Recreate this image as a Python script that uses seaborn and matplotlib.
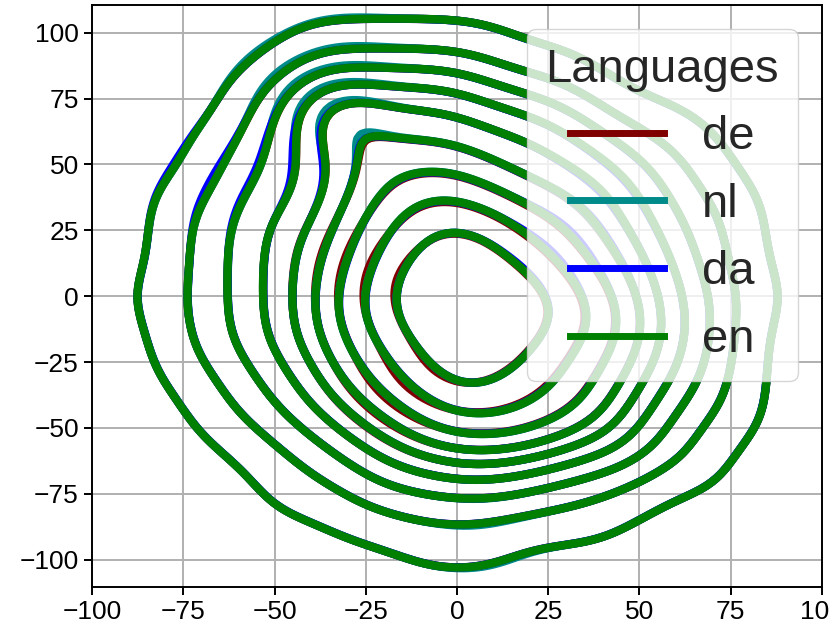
import numpy as np
import pandas as pd
import matplotlib
matplotlib.use("Agg")
import matplotlib.pyplot as plt
from matplotlib.lines import Line2D
import seaborn as sns

plt.rcParams['font.family'] = ['Liberation Sans', 'DejaVu Sans']

languages = ['de', 'nl', 'da', 'en']
colors = ['maroon', 'darkcyan', 'blue', 'green']

# grid: each digit is how many contour rings
# enclose that point (rows y=100..-100, columns x=-100..100)
grid_x = [-100, -90, -80, -70, -60, -50, -40, -30, -20, -10, 0,
          10, 20, 30, 40, 50, 60, 70, 80, 90, 100]
grid_y = [100, 90, 80, 70, 60, 50, 40, 30, 20, 10, 0,
          -10, -20, -30, -40, -50, -60, -70, -80, -90, -100]
ring_map = [
    "000000111111000000000",
    "000001222221110000000",
    "000012444443221000000",
    "000013575554432110000",
    "000123465555543211000",
    "000123456665554321000",
    "001133456776555421100",
    "001234467888765432100",
    "001234567898775532100",
    "001234568999876542100",
    "011234578999987543110",
    "001234578999987643100",
    "001234567899877543100",
    "001123467898876542100",
    "000123456788776432100",
    "000112345677765421100",
    "000011234555544321000",
    "000001123344332211000",
    "000001112222211100000",
    "000000011111111000000",
    "000000000111000000000",
]

# small per-language differences (x, y, weight)
de_extra = [(-15, -35, 1.2), (-25, 10, 1.0)]
nl_extra = [(-50, 85, 1.3), (-30, 95, 1.0), (-35, 70, 0.8), (10, -95, 0.6)]
da_extra = [(-70, 45, 1.0), (-45, 55, 0.7), (30, 20, 0.8)]
en_extra = [(40, 40, 0.3)]

rows = []
for lang, extra in zip(languages, [de_extra, nl_extra, da_extra, en_extra]):
    for yv, line in zip(grid_y, ring_map):
        for xv, ch in zip(grid_x, line):
            k = int(ch)
            if k > 0:
                rows.append((lang, xv, yv, k + 2.0))
    for xv, yv, wv in extra:
        rows.append((lang, xv, yv, wv))
df = pd.DataFrame(rows, columns=['lang', 'x', 'y', 'w'])

fig = plt.figure(figsize=(8.3, 6.39), dpi=100)
ax = fig.add_axes([0.111, 0.081, 0.879, 0.911])
ax.set_axisbelow(True)
ax.grid(True, color='#b0b0b0', linewidth=1.4)

sns.kdeplot(data=df, x='x', y='y', weights='w', hue='lang',
            hue_order=languages, palette=dict(zip(languages, colors)),
            levels=10, thresh=0.05, bw_adjust=0.6, common_norm=False,
            linewidths=6, legend=False, ax=ax)

ax.set_xlim(-100, 100)
ax.set_ylim(-110.5, 110.5)
ax.set_xticks(range(-100, 101, 25))
ax.set_yticks(range(-100, 101, 25))
ax.set_xlabel('')
ax.set_ylabel('')
ax.tick_params(labelsize=19, width=1.4, length=6, colors='black')
for s in ax.spines.values():
    s.set_linewidth(1.4)

handles = [Line2D([0], [0], color=c, lw=5) for c in colors]
leg = ax.legend(handles, languages, title='Languages', loc='upper right',
                fontsize=34, title_fontsize=34, framealpha=0.8)
for t in leg.get_texts():
    t.set_color('#262626')
leg.get_title().set_color('#262626')

fig.savefig('out.png', dpi=100)
